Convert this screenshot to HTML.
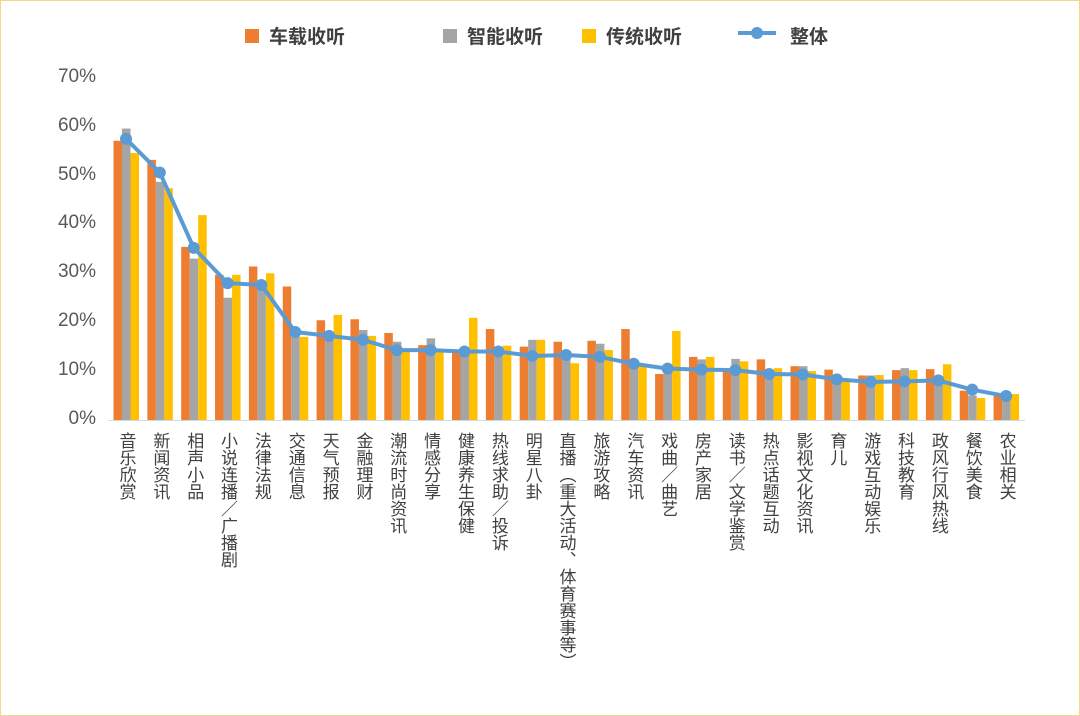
<!DOCTYPE html>
<html><head><meta charset="utf-8"><style>
body{margin:0;width:1080px;height:716px;background:#fff;position:relative;overflow:hidden;font-family:"Liberation Sans","Noto Sans CJK SC",sans-serif;}
.xl{position:absolute;top:432px;writing-mode:vertical-rl;font-size:17px;color:#404040;transform:translateX(-50%);line-height:1;white-space:nowrap}
.yl{position:absolute;left:40px;width:56px;text-align:right;font-size:19px;color:#595959}
.lg{position:absolute;top:22px;font-size:19px;color:#404040;font-weight:bold}
</style></head><body>
<svg width="1080" height="716" style="position:absolute;left:0;top:0" id="s"></svg>
<div id="labels"></div>
<div class="lg" style="left:245px"><span style="display:inline-block;width:14px;height:14px;background:#ED7D31;margin-right:10px"></span>车载收听</div>
<div class="lg" style="left:443px"><span style="display:inline-block;width:14px;height:14px;background:#A5A5A5;margin-right:10px"></span>智能收听</div>
<div class="lg" style="left:582px"><span style="display:inline-block;width:14px;height:14px;background:#FFC000;margin-right:10px"></span>传统收听</div>
<div class="lg" style="left:790px">整体</div>
<script>
var names=["音乐欣赏","新闻资讯","相声小品","小说连播／广播剧","法律法规","交通信息","天气预报","金融理财","潮流时尚资讯","情感分享","健康养生保健","热线求助／投诉","明星八卦","直播（重大活动、体育赛事等）","旅游攻略","汽车资讯","戏曲／曲艺","房产家居","读书／文学鉴赏","热点话题互动","影视文化资讯","育儿","游戏互动娱乐","科技教育","政风行风热线","餐饮美食","农业相关"];
var d=[[57.1,59.6,54.6,57.5],[53.2,48.7,47.4,50.6],[35.4,33,41.9,35.2],[29.7,25,29.7,28],[31.4,28,30,27.6],[27.3,18,17,18],[20.4,18,21.5,17.2],[20.6,18.4,17.2,16.4],[17.8,16,14,14.3],[15.3,16.7,14,14.3],[14,14,20.9,14],[18.6,15,15.2,14],[15,16.4,16.4,13.1],[16,13,11.6,13.3],[16.2,15.6,14.3,12.9],[18.6,12,11,11.5],[9.4,10,18.2,10.5],[12.9,12.4,12.9,10.3],[10,12.5,12,10.2],[12.4,10,10.6,9.4],[11,11,10,9.3],[10.3,9,8.5,8.3],[9.1,9.1,9.2,7.8],[10.2,10.6,10.2,7.9],[10.4,9,11.4,8.1],[6,5,4.5,6.2],[5,4.5,5.3,4.9]];
var s='',Y=function(v){return 420-v*4.89};
var cols=["#ED7D31","#A5A5A5","#FFC000"],off=[-12.5,-4,4.5];
s+='<line x1="108" y1="420.5" x2="1025" y2="420.5" stroke="#d9d9d9" stroke-width="1"/>';
var pts=[],lab='';
d.forEach(function(r,i){var c=126+33.85*i;
for(var k=0;k<3;k++){s+='<rect x="'+(c+off[k])+'" y="'+Y(r[k])+'" width="8.5" height="'+(420-Y(r[k]))+'" fill="'+cols[k]+'"/>';}
pts.push(c+','+Y(r[3]));
lab+='<div class="xl" style="left:'+c+'px">'+names[i]+'</div>';});
s+='<polyline points="'+pts.join(' ')+'" fill="none" stroke="#5B9BD5" stroke-width="4" stroke-linejoin="round"/>';
pts.forEach(function(p){var a=p.split(',');s+='<circle cx="'+a[0]+'" cy="'+a[1]+'" r="6" fill="#5B9BD5"/>';});
s+='<line x1="738" y1="33" x2="776" y2="33" stroke="#5B9BD5" stroke-width="4"/><circle cx="757" cy="33" r="6" fill="#5B9BD5"/>';
s+='<rect x="0.5" y="0.5" width="1079" height="715" fill="none" stroke="#f2d88a"/>';
document.getElementById('s').innerHTML=s;
for(var v=0;v<=70;v+=10){lab+='<div class="yl" style="top:'+(Y(v)-12)+'px">'+v+'%</div>';}
document.getElementById('labels').innerHTML=lab;
</script>
</body></html>
